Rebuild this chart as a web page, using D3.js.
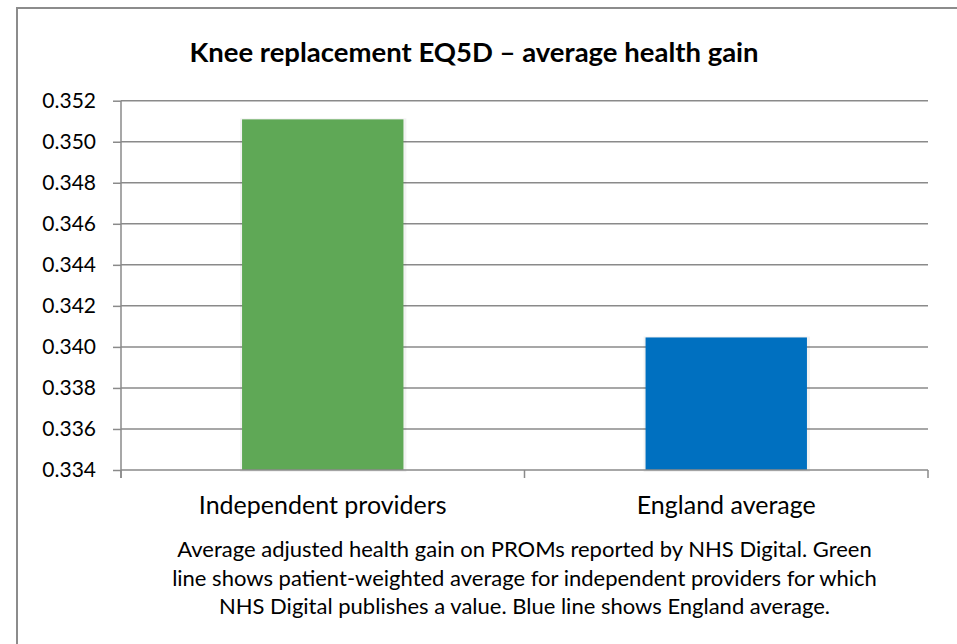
<!DOCTYPE html>
<html><head><meta charset="utf-8">
<script src="https://cdn.jsdelivr.net/npm/d3@7"></script>
<style>body{margin:0;background:#fff;} svg{display:block;} text{font-family:Lato, "Open Sans", sans-serif;fill:#000;}</style>
</head><body>
<svg id="c" width="957" height="644"></svg>
<script>
const categories = ["Independent providers", "England average"];
const values = [0.35109, 0.34046];
const barColors = ["#5FA856", "#0070C0"];
const yTicks = [0.334, 0.336, 0.338, 0.340, 0.342, 0.344, 0.346, 0.348, 0.350, 0.352];
const title = "Knee replacement EQ5D \u2013 average health gain";
const captionLines = [
  "Average adjusted health gain on PROMs reported by NHS Digital. Green",
  "line shows patient-weighted average for independent providers for which",
  "NHS Digital publishes a value. Blue line shows England average."
];

const svg = d3.select("#c");
const pL = 121, pR = 928, pT = 100.7, pB = 470;

// outer border
svg.append("rect").attr("x", 17).attr("y", 8).attr("width", 941).attr("height", 700)
  .attr("fill", "#fff").attr("stroke", "#8c8c8c").attr("stroke-width", 2);

const x = d3.scaleBand().domain(categories).range([pL, pR]).paddingInner(0.6).paddingOuter(0.3);
const xb = d3.scaleBand().domain(categories).range([pL, pR]);
const y = d3.scaleLinear().domain([0.334, 0.352]).range([pB, pT]);

// gridlines
svg.append("g").selectAll("line").data(yTicks.slice(1)).join("line")
  .attr("x1", pL).attr("x2", pR).attr("y1", d => y(d)).attr("y2", d => y(d))
  .attr("stroke", "#8a8a8a").attr("stroke-width", 1.5);

// bar shadows
svg.append("g").selectAll("rect").data(values).join("rect")
  .attr("x", (d, i) => x(categories[i]) - 2).attr("y", d => y(d) - 1)
  .attr("width", x.bandwidth() + 5).attr("height", d => pB - y(d) + 3)
  .attr("fill", "#000").attr("opacity", 0.05);
// bars
svg.append("g").selectAll("rect").data(values).join("rect")
  .attr("x", (d, i) => x(categories[i])).attr("y", d => y(d))
  .attr("width", x.bandwidth()).attr("height", d => pB - y(d))
  .attr("fill", (d, i) => barColors[i]);

// y axis
const yAxis = d3.axisLeft(y).tickValues(yTicks).tickFormat(d3.format(".3f")).tickSize(8).tickPadding(17);
const gy = svg.append("g").attr("transform", `translate(${pL},0)`).call(yAxis);
gy.select(".domain").attr("stroke", "#8a8a8a").attr("stroke-width", 1.5).attr("d", `M0,${pT}V${pB + 8}`);
gy.selectAll(".tick line").attr("stroke", "#8a8a8a").attr("stroke-width", 1.5);
gy.selectAll(".tick text").style("font-size", "21px").attr("fill", "#000");

// x axis
const gx = svg.append("g").attr("transform", `translate(0,${pB})`);
gx.append("line").attr("x1", pL).attr("x2", pR).attr("stroke", "#8a8a8a").attr("stroke-width", 1.5);
const bounds = categories.map(c => xb(c)).concat([pR]);
gx.selectAll("line.t").data(bounds).join("line").attr("class", "t")
  .attr("x1", d => d).attr("x2", d => d).attr("y1", 0).attr("y2", 8)
  .attr("stroke", "#8a8a8a").attr("stroke-width", 1.5);
gx.selectAll("text").data(categories).join("text")
  .attr("x", d => xb(d) + xb.bandwidth() / 2).attr("y", 44)
  .attr("text-anchor", "middle").style("font-size", "25px").text(d => d);

// title
svg.append("text").attr("x", 474).attr("y", 62).attr("text-anchor", "middle")
  .style("font-size", "27.5px").style("font-weight", "bold").text(title);

// caption
svg.append("g").selectAll("text").data(captionLines).join("text")
  .attr("x", (pL + pR) / 2).attr("y", (d, i) => 557 + i * 28.5)
  .attr("text-anchor", "middle").style("font-size", "22px").text(d => d);
</script>
</body></html>
